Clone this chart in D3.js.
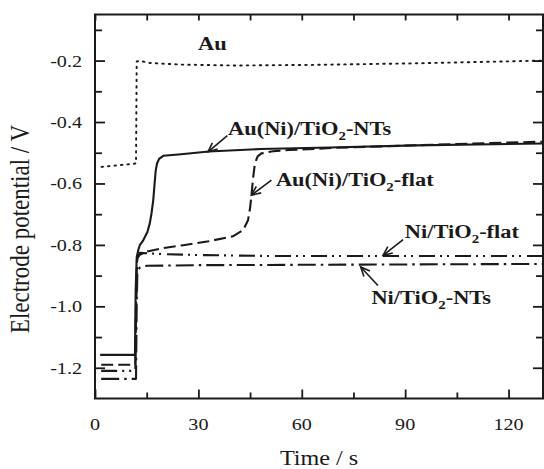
<!DOCTYPE html>
<html><head><meta charset="utf-8">
<script src="https://cdn.jsdelivr.net/npm/d3@7"></script>
<style>
html,body{margin:0;padding:0;background:#fff;}
text{font-family:"Liberation Serif","Times New Roman",serif;fill:#1a1a1a;}
</style></head>
<body><svg id="c" width="544" height="469"></svg>
<script>
// ---- data (time in s, potential in V) ----
const xTicks = [0, 30, 60, 90, 120];
const xMinor = [15, 45, 75, 105];
const yTicks = [-0.2, -0.4, -0.6, -0.8, -1.0, -1.2];
const yMinor = [-0.1, -0.3, -0.5, -0.7, -0.9, -1.1];

const auT = [1.9, 11.9, 12.1, 13, 16, 25, 40, 63, 93, 130];
const auV = [-0.546, -0.535, -0.203, -0.201, -0.208, -0.213, -0.216, -0.214, -0.209, -0.200];

const auNiNtsT = [1.5, 11.6, 11.8, 12.1, 12.6, 13, 14, 15.2, 15.9, 16.4, 16.9, 17.3, 17.6, 18.0, 18.6, 19.8, 25, 33, 48, 68, 93, 130];
const auNiNtsV = [-1.158, -1.158, -0.95, -0.84, -0.815, -0.801, -0.785, -0.758, -0.73, -0.697, -0.655, -0.60, -0.56, -0.535, -0.52, -0.51, -0.505, -0.496, -0.488, -0.483, -0.476, -0.470];

const auNiFlatT = [1.8, 11.7, 11.9, 12.2, 13, 15, 20, 25.6, 33, 40, 43, 44.4, 45, 45.4, 45.9, 46.4, 47.2, 48.3, 51.7, 56.5, 70, 90, 110, 130];
const auNiFlatV = [-1.19, -1.19, -1.0, -0.845, -0.832, -0.822, -0.81, -0.801, -0.788, -0.772, -0.752, -0.72, -0.68, -0.638, -0.58, -0.535, -0.512, -0.502, -0.495, -0.491, -0.484, -0.477, -0.470, -0.464];

const niFlatT = [1.8, 11.7, 11.9, 12.3, 13, 20, 30, 50, 130];
const niFlatV = [-1.21, -1.21, -1.0, -0.84, -0.826, -0.83, -0.833, -0.836, -0.836];

const niNtsT = [1.8, 11.9, 12.1, 12.3, 13, 15, 30, 130];
const niNtsV = [-1.236, -1.236, -1.0, -0.885, -0.874, -0.868, -0.866, -0.862];

const seriesNames = ["Au", "Au(Ni)/TiO2-NTs", "Au(Ni)/TiO2-flat", "Ni/TiO2-flat", "Ni/TiO2-NTs"];

// ---- layout & style ----
const x = d3.scaleLinear().domain([0, 130]).range([95, 543]);
const y = d3.scaleLinear().domain([-1.3, -0.05]).range([398.5, 14.5]);
const ink = "#1a1a1a";
const SX = 1.15; // horizontal text stretch of the original

const svg = d3.select("#c");

const series = [
  {t: auT, v: auV, dash: "1.5,5", w: 1.9, cap: "round"},
  {t: auNiNtsT, v: auNiNtsV, dash: null, w: 2.1, cap: "butt"},
  {t: auNiFlatT, v: auNiFlatV, dash: "12,5", w: 2.1, cap: "butt"},
  {t: niFlatT, v: niFlatV, dash: "16,5,2,5,2,6", w: 2.1, cap: "butt"},
  {t: niNtsT, v: niNtsV, dash: "18,5,2.5,5", w: 2.1, cap: "butt"}
];

const line = d3.line().x(d => x(d[0])).y(d => y(d[1]));
series.forEach(s => {
  const pts = s.t.map((t, i) => [t, s.v[i]]);
  svg.append("path").attr("d", line(pts)).attr("fill", "none")
    .attr("stroke", ink).attr("stroke-width", s.w)
    .attr("stroke-dasharray", s.dash).attr("stroke-linecap", s.cap)
    .attr("stroke-linejoin", "round");
});

// ---- axes ----
function styleAxis(g) {
  g.select(".domain").remove();
  g.selectAll("line").attr("stroke", ink).attr("stroke-width", 1.8);
}
const fmt = d => d3.format(".1f")(d).replace("\u2212", "-");
svg.append("g").attr("transform", `translate(0,${y.range()[0]})`)
  .call(d3.axisBottom(x).tickValues(xTicks).tickSize(-9).tickFormat(""))
  .call(styleAxis);
svg.append("g").attr("transform", `translate(0,${y.range()[0]})`)
  .call(d3.axisBottom(x).tickValues(xMinor).tickSize(-6).tickFormat(""))
  .call(styleAxis);
svg.append("g").attr("transform", `translate(0,${y.range()[1]})`)
  .call(d3.axisTop(x).tickValues(xTicks.concat(xMinor)).tickSize(-6).tickFormat(""))
  .call(styleAxis);
svg.append("g").attr("transform", `translate(${x.range()[0]},0)`)
  .call(d3.axisLeft(y).tickValues(yTicks).tickSize(-10).tickFormat(""))
  .call(styleAxis);
svg.append("g").attr("transform", `translate(${x.range()[0]},0)`)
  .call(d3.axisLeft(y).tickValues(yMinor).tickSize(-7).tickFormat(""))
  .call(styleAxis);
svg.append("g").attr("transform", `translate(${x.range()[1]},0)`)
  .call(d3.axisRight(y).tickValues(yTicks).tickSize(-10).tickFormat(""))
  .call(styleAxis);
svg.append("g").attr("transform", `translate(${x.range()[1]},0)`)
  .call(d3.axisRight(y).tickValues(yMinor).tickSize(-7).tickFormat(""))
  .call(styleAxis);

// frame
svg.append("rect").attr("x", x.range()[0]).attr("y", y.range()[1])
  .attr("width", x.range()[1] - x.range()[0]).attr("height", y.range()[0] - y.range()[1])
  .attr("fill", "none").attr("stroke", ink).attr("stroke-width", 2);

// tick labels
function stretchedText(px, py, str, size, anchor, weight) {
  return svg.append("text").attr("transform", `translate(${px},${py}) scale(${SX},1)`)
    .attr("text-anchor", anchor).attr("font-size", size).attr("font-weight", weight || "normal")
    .text(str);
}
xTicks.forEach(t => stretchedText(x(t), 430, String(t), 17.5, "middle"));
yTicks.forEach(v => stretchedText(82, y(v) + 6, fmt(v), 17.5, "end"));

// axis titles
stretchedText((x.range()[0] + x.range()[1]) / 2, 465, "Time / s", 21, "middle");
svg.append("text").attr("transform", `translate(29,229) scale(${SX},1) rotate(-90)`)
  .attr("text-anchor", "middle").attr("font-size", 23).text("Electrode potential / V");

// ---- annotations (positions in data units) ----
const labels = [
  {name: seriesNames[0], tx: 29.9, tv: -0.167},
  {name: seriesNames[1], tx: 38.6, tv: -0.442, head: [32.8, -0.497], tail: [38.4, -0.444]},
  {name: seriesNames[2], tx: 52.5, tv: -0.609, head: [45.4, -0.638], tail: [51.2, -0.589]},
  {name: seriesNames[3], tx: 89.9, tv: -0.779, head: [83.6, -0.834], tail: [89.4, -0.783]},
  {name: seriesNames[4], tx: 80.2, tv: -0.992, head: [77.1, -0.872], tail: [82.1, -0.932]}
];
labels.forEach(l => {
  const t = svg.append("text").attr("transform", `translate(${x(l.tx)},${y(l.tv)}) scale(${SX},1)`)
    .attr("font-size", 19.5).attr("font-weight", "bold");
  const m = l.name.match(/^(.*TiO)2(.*)$/);
  if (m) {
    t.append("tspan").text(m[1]);
    t.append("tspan").attr("font-size", 13).attr("dy", 5).text("2");
    t.append("tspan").attr("dy", -5).text(m[2]);
  } else {
    t.text(l.name);
  }
  if (l.head) {
    const hx = x(l.head[0]), hy = y(l.head[1]), tx = x(l.tail[0]), ty = y(l.tail[1]);
    svg.append("line").attr("x1", tx).attr("y1", ty).attr("x2", hx).attr("y2", hy)
      .attr("stroke", ink).attr("stroke-width", 1.6);
    const ang = Math.atan2(ty - hy, tx - hx), a = 0.42, len = 10;
    const p1 = [hx + len * Math.cos(ang + a), hy + len * Math.sin(ang + a)];
    const p2 = [hx + len * Math.cos(ang - a), hy + len * Math.sin(ang - a)];
    svg.append("path").attr("d", `M${p1}L${hx},${hy}L${p2}`).attr("fill", "none")
      .attr("stroke", ink).attr("stroke-width", 1.6);
  }
});
</script></body></html>
